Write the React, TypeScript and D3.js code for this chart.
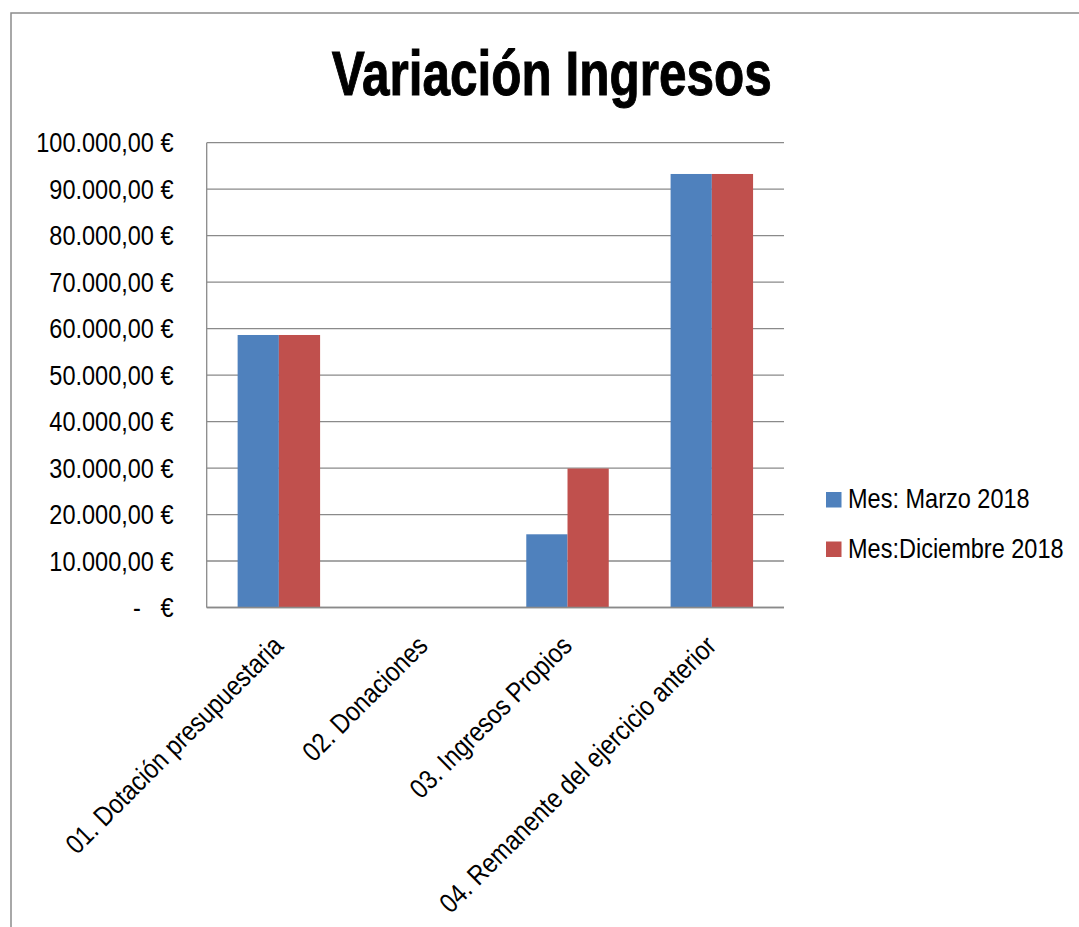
import React from "react";
import * as d3 from "d3";

const categories = [
  "01. Dotación presupuestaria",
  "02. Donaciones",
  "03. Ingresos Propios",
  "04. Remanente del ejercicio anterior",
];
const seriesNames = ["Mes: Marzo 2018", "Mes:Diciembre 2018"];
const marzo = [58630, 0, 15750, 93270];
const diciembre = [58630, 0, 29900, 93270];
const seriesColors = ["#4F81BD", "#C0504D"];
const yTicks = [0, 10000, 20000, 30000, 40000, 50000, 60000, 70000, 80000, 90000, 100000];
const title = "Variación Ingresos";

const W = 1079;
const H = 927;
const plot = { left: 206.7, right: 784, top: 142.7, bottom: 607.5 };
const FONT = "'Liberation Sans', Arial, sans-serif";
const SX = 0.855;

const locale = d3.formatLocale({
  decimal: ",",
  thousands: ".",
  grouping: [3],
  currency: ["", " €"],
});
const fmt = locale.format("$,.2f");
const fmtTick = (v: number) => (v === 0 ? "-   €" : fmt(v));

export default function App() {
  const x = d3
    .scaleBand<string>()
    .domain(categories)
    .range([plot.left, plot.right])
    .paddingInner(0)
    .paddingOuter(0);
  const inner = d3
    .scaleBand<number>()
    .domain([0, 1])
    .range([0, x.bandwidth()])
    .paddingOuter(0.75)
    .paddingInner(0);
  const y = d3.scaleLinear().domain([0, 100000]).range([plot.bottom, plot.top]);
  const series = [marzo, diciembre];

  return (
    <svg
      width={W}
      height={H}
      style={{ position: "absolute", left: 0, top: 0, background: "#fff" }}
    >
      <rect x={11} y={13} width={1100} height={1000} fill="#fff" stroke="#8c8c8c" strokeWidth={1.5} />

      <text
        x={551.7}
        y={95}
        textAnchor="middle"
        fontFamily={FONT}
        fontWeight="bold"
        fontSize={63}
        textLength={440}
        lengthAdjust="spacingAndGlyphs"
        fill="#000"
        stroke="#000"
        strokeWidth={1}
      >
        {title}
      </text>

      {/* gridlines */}
      {yTicks.map((t) => (
        <line
          key={"g" + t}
          x1={plot.left}
          x2={plot.right}
          y1={y(t)}
          y2={y(t)}
          stroke="#8a8a8a"
          strokeWidth={1.3}
        />
      ))}
      <line x1={plot.left} x2={plot.left} y1={plot.top} y2={plot.bottom} stroke="#8a8a8a" strokeWidth={1.3} />

      {/* y tick labels */}
      {yTicks.map((t) => (
        <g key={"t" + t} transform={`translate(173.5, ${y(t) + 9.5}) scale(${SX},1)`}>
          <text
            textAnchor="end"
            fontFamily={FONT}
            fontSize={27.5}
            fill="#000"
            style={{ whiteSpace: "pre" }}
          >
            {fmtTick(t)}
          </text>
        </g>
      ))}

      {/* bars */}
      {categories.map((c, i) => (
        <g key={c}>
          {series.map((s, si) => (
            <rect
              key={si}
              x={(x(c) as number) + (inner(si) as number)}
              y={y(s[i])}
              width={inner.bandwidth()}
              height={plot.bottom - y(s[i])}
              fill={seriesColors[si]}
            />
          ))}
        </g>
      ))}
      <line x1={plot.left} x2={plot.right} y1={plot.bottom} y2={plot.bottom} stroke="#8a8a8a" strokeWidth={1.3} />

      {/* x labels */}
      {categories.map((c) => {
        const cx = (x(c) as number) + x.bandwidth() / 2;
        return (
          <g key={"l" + c} transform={`translate(${cx + 6}, ${plot.bottom + 40}) rotate(-45) scale(${SX},1)`}>
            <text textAnchor="end" fontFamily={FONT} fontSize={27.5} fill="#000">
              {c}
            </text>
          </g>
        );
      })}

      {/* legend */}
      {seriesNames.map((n, i) => (
        <g key={n} transform={`translate(826, ${492 + i * 49.5})`}>
          <rect x={0} y={0} width={15.5} height={15.5} fill={seriesColors[i]} />
          <g transform={`translate(22, 16) scale(${SX},1)`}>
            <text fontFamily={FONT} fontSize={27.5} fill="#000">
              {n}
            </text>
          </g>
        </g>
      ))}
    </svg>
  );
}
